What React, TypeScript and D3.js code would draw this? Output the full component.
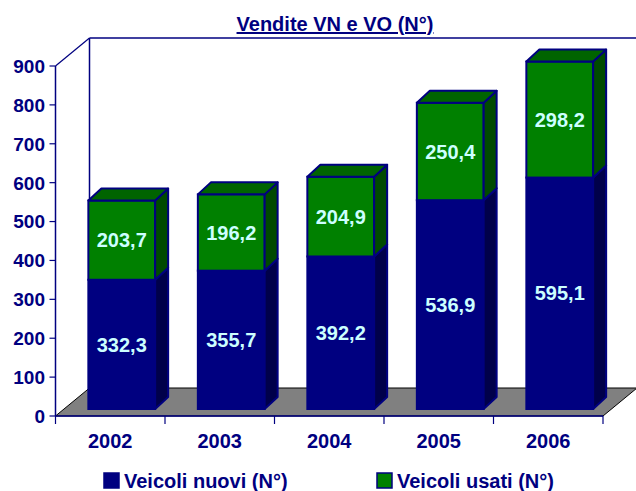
import React from 'react';
import * as d3 from 'd3';

// dati
const years = ['2002', '2003', '2004', '2005', '2006'];
const nuovi = [332.3, 355.7, 392.2, 536.9, 595.1];
const usati = [203.7, 196.2, 204.9, 250.4, 298.2];
const yTicks = [0, 100, 200, 300, 400, 500, 600, 700, 800, 900];
const seriesNames = ['Veicoli nuovi (N°)', 'Veicoli usati (N°)'];

const width = 636;
const height = 491;
const navy = '#000080';
const font = '"Liberation Sans", Arial, sans-serif';

// profondità del pavimento e delle barre
const floorDx = 34;
const floorDy = -28;
const barDx = 13;
const barDy = -12;
const barLift = 7;

const fmt = (v: number) => v.toFixed(1).replace('.', ',');

const App = () => {
  const x = d3.scaleBand<string>().domain(years).range([55.5, 603]).paddingInner(0).paddingOuter(0);
  const y = d3.scaleLinear().domain([0, 900]).range([416, 66]);

  const rows = years.map((yr, i) => ({ year: yr, nuovi: nuovi[i], usati: usati[i] }));
  const stacked = d3.stack<any>().keys(['nuovi', 'usati'])(rows);

  const x0 = x.range()[0];
  const x1 = x.range()[1];
  const bw = x.bandwidth();
  const yb = (v: number) => y(v) - barLift;

  const colors = [
    { front: '#000080', side: '#00004a', top: '#000060', stroke: navy },
    { front: '#008000', side: '#004a00', top: '#006400', stroke: navy },
  ];

  const pts = (p: number[][]) => p.map((d) => d.join(',')).join(' ');

  return (
    <svg width={width} height={height} style={{ display: 'block', position: 'absolute', left: 0, top: 0 }}>
      <rect width={width} height={height} fill="#fff" />
      <text
        x={335}
        y={31}
        textAnchor="middle"
        fontFamily={font}
        fontWeight="bold"
        fontSize={20}
        fill={navy}
        textDecoration="underline"
      >
        Vendite VN e VO (N°)
      </text>

      {/* pareti */}
      <line x1={x0 + floorDx} y1={y(0) + floorDy} x2={x0 + floorDx} y2={y(900) + floorDy} stroke={navy} strokeWidth={1.5} />
      <line x1={x0 + floorDx} y1={y(900) + floorDy} x2={width} y2={y(900) + floorDy} stroke={navy} strokeWidth={1.5} />
      <line x1={x0} y1={y(900)} x2={x0 + floorDx} y2={y(900) + floorDy} stroke={navy} strokeWidth={1.2} />

      {/* pavimento */}
      <polygon
        points={pts([
          [x0, y(0)],
          [x1, y(0)],
          [x1 + floorDx, y(0) + floorDy],
          [x0 + floorDx, y(0) + floorDy],
        ])}
        fill="#808080"
        stroke="#000"
        strokeWidth={1}
      />

      {/* asse y */}
      <line x1={x0} y1={y(0)} x2={x0} y2={y(900)} stroke={navy} strokeWidth={1.5} />
      {yTicks.map((t) => (
        <g key={t}>
          <line x1={x0 - 6} x2={x0} y1={y(t)} y2={y(t)} stroke={navy} strokeWidth={1.2} />
          <text
            x={45}
            y={y(t)}
            dy="0.36em"
            textAnchor="end"
            fontFamily={font}
            fontWeight="bold"
            fontSize={19}
            fill={navy}
          >
            {t}
          </text>
        </g>
      ))}

      {/* asse x */}
      <line x1={x0} y1={y(0)} x2={x1} y2={y(0)} stroke={navy} strokeWidth={1.5} />
      {[...years.map((yr) => x(yr) as number), x1].map((tx, i) => (
        <line key={i} x1={tx} x2={tx} y1={y(0)} y2={y(0) + 8} stroke={navy} strokeWidth={1.2} />
      ))}
      {years.map((yr) => (
        <text
          key={yr}
          x={(x(yr) as number) + bw / 2}
          y={448}
          textAnchor="middle"
          fontFamily={font}
          fontWeight="bold"
          fontSize={20}
          fill={navy}
        >
          {yr}
        </text>
      ))}

      {/* barre */}
      {years.map((yr, i) => {
        const xl = (x(yr) as number) + bw * 0.3;
        const xr = xl + bw * 0.61;
        return (
          <g key={yr}>
            {stacked.map((s, k) => {
              const c = colors[k];
              const ya = yb(s[i][0]);
              const yz = yb(s[i][1]);
              return (
                <g key={k}>
                  <rect x={xl} y={yz} width={xr - xl} height={ya - yz} fill={c.front} stroke={c.stroke} strokeWidth={2} />
                  <polygon
                    points={pts([
                      [xr, yz],
                      [xr + barDx, yz + barDy],
                      [xr + barDx, ya + barDy],
                      [xr, ya],
                    ])}
                    fill={c.side}
                    stroke={c.stroke}
                    strokeWidth={2}
                    strokeLinejoin="round"
                  />
                  {k === stacked.length - 1 && (
                    <polygon
                      points={pts([
                        [xl, yz],
                        [xl + barDx, yz + barDy],
                        [xr + barDx, yz + barDy],
                        [xr, yz],
                      ])}
                      fill={c.top}
                      stroke={c.stroke}
                      strokeWidth={2}
                      strokeLinejoin="round"
                    />
                  )}
                  <text
                    x={(xl + xr) / 2}
                    y={(ya + yz) / 2}
                    dy="0.36em"
                    textAnchor="middle"
                    fontFamily={font}
                    fontWeight="bold"
                    fontSize={20}
                    fill="#ccffff"
                  >
                    {fmt(s[i][1] - s[i][0])}
                  </text>
                </g>
              );
            })}
          </g>
        );
      })}

      {/* legenda */}
      {seriesNames.map((name, k) => {
        const lx = k === 0 ? 104 : 377;
        return (
          <g key={name}>
            <rect x={lx} y={473} width={15} height={15} fill={colors[k].front} stroke={navy} strokeWidth={1.5} />
            <text x={lx + 20} y={488} fontFamily={font} fontWeight="bold" fontSize={20} fill={navy}>
              {name}
            </text>
          </g>
        );
      })}
    </svg>
  );
};

export default App;
